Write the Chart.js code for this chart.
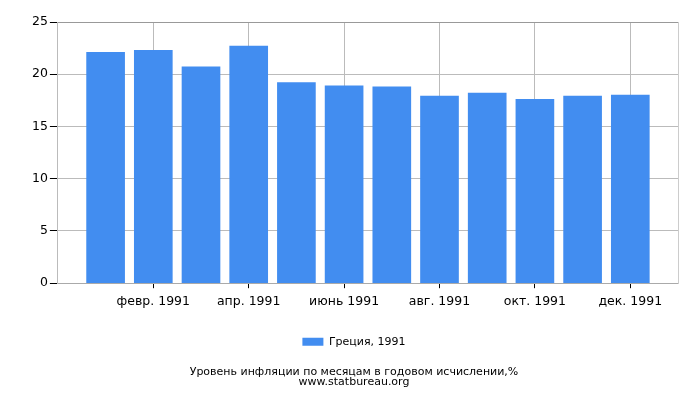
<!DOCTYPE html>
<html>
<head>
<meta charset="utf-8">
<script src="https://cdn.jsdelivr.net/npm/chart.js@4.4.1/dist/chart.umd.min.js"></script>
<style>
  body { margin: 0; background: #fff; }
  #wrap { width: 700px; height: 400px; }
</style>
</head>
<body>
<div id="wrap"><canvas id="chart"></canvas></div>
<script>
// data
const months = ["янв. 1991", "февр. 1991", "март 1991", "апр. 1991", "май 1991", "июнь 1991",
                "июль 1991", "авг. 1991", "сент. 1991", "окт. 1991", "нояб. 1991", "дек. 1991"];
const inflation = [22.1, 22.3, 20.7, 22.7, 19.2, 18.9, 18.8, 17.9, 18.2, 17.6, 17.9, 18.0];
const yTicks = [0, 5, 10, 15, 20, 25];
const seriesName = "Греция, 1991";
const titleLines = ["Уровень инфляции по месяцам в годовом исчислении,%", "www.statbureau.org"];

Chart.defaults.font.family = "'DejaVu Sans', sans-serif";
Chart.defaults.color = "#000";

// bars sit on positions 1..12, axis runs 0..13
const points = inflation.map((v, i) => ({ x: i + 1, y: v }));

new Chart(document.getElementById("chart"), {
  type: "bar",
  data: {
    datasets: [{
      label: seriesName,
      data: points,
      backgroundColor: "#428df0",
      barThickness: 38
    }]
  },
  options: {
    responsive: true,
    maintainAspectRatio: false,
    animation: false,
    layout: { padding: { left: 30, right: 22, top: 22, bottom: 13 } },
    plugins: {
      legend: {
        position: "bottom",
        // empty legend title only to push the plot up a bit
        title: { display: true, text: "", font: { size: 1, lineHeight: 1 }, padding: { top: 0, bottom: 4 } },
        labels: { boxWidth: 21, boxHeight: 8, font: { size: 11 }, padding: 16 }
      },
      title: {
        display: true,
        position: "bottom",
        text: titleLines,
        font: { size: 11, weight: "normal", lineHeight: 0.9 },
        padding: { top: 10, bottom: 0 }
      },
      tooltip: { enabled: false }
    },
    scales: {
      x: {
        type: "linear",
        offset: false,
        min: 0,
        max: 13,
        afterBuildTicks: axis => {
          axis.ticks = months.map((m, i) => ({ value: i + 1 })).filter(t => t.value % 2 === 0);
        },
        ticks: {
          autoSkip: false,
          maxRotation: 0,
          font: { size: 12.5 },
          padding: 6,
          callback: v => months[v - 1]
        },
        grid: { offset: false, color: "#bbb", tickColor: "#000", tickLength: 5 },
        border: { color: "#aaa" }
      },
      y: {
        min: 0,
        max: 25,
        afterBuildTicks: axis => { axis.ticks = yTicks.map(v => ({ value: v })); },
        ticks: { font: { size: 12.5 }, padding: 2 },
        grid: {
          color: c => (c.tick && c.tick.value === 25) ? "#999" : "#bbb",
          tickColor: "#000",
          tickLength: 8
        },
        border: { color: "#bbb" }
      },
      y2: {
        position: "right",
        min: 0,
        max: 25,
        ticks: { display: false },
        grid: { drawOnChartArea: false, drawTicks: false },
        border: { color: "#ccc" }
      }
    }
  }
});
</script>
</body>
</html>
